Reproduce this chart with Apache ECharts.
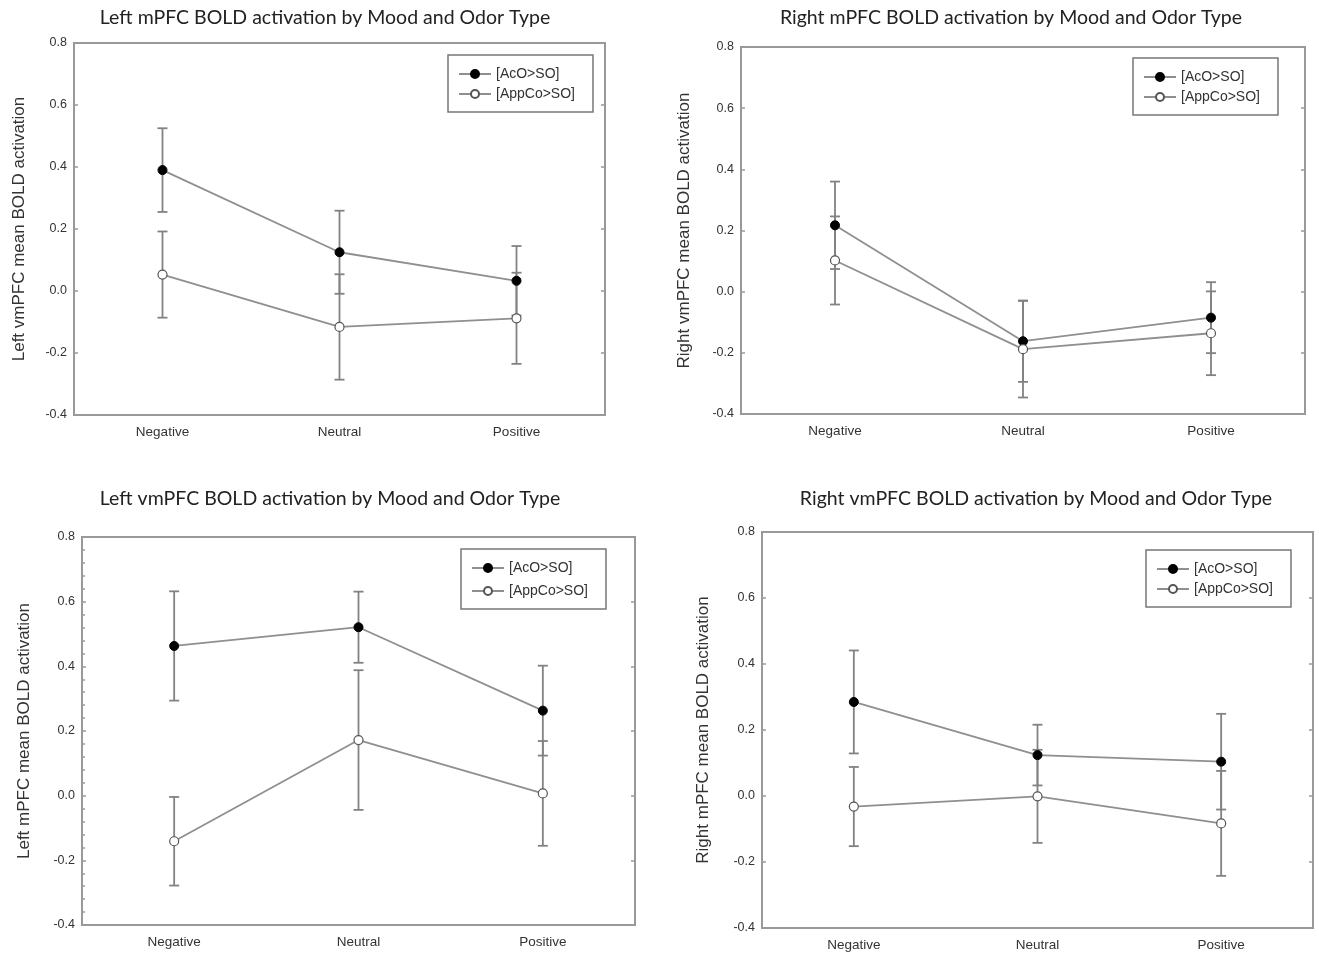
<!DOCTYPE html>
<html><head><meta charset="utf-8">
<script src="https://cdn.jsdelivr.net/npm/echarts@6/dist/echarts.min.js"></script>
<style>html,body{margin:0;padding:0;background:#fff}#c{width:1319px;height:956px}</style>
</head><body><div id="c"></div>
<script>
const categories = ['Negative', 'Neutral', 'Positive'];
const seriesNames = ['[AcO>SO]', '[AppCo>SO]'];
const yTicks = [-0.4, -0.2, 0.0, 0.2, 0.4, 0.6, 0.8];

const titles = [
  'Left mPFC BOLD activation by Mood and Odor Type',
  'Right mPFC BOLD activation by Mood and Odor Type',
  'Left vmPFC BOLD activation by Mood and Odor Type',
  'Right vmPFC BOLD activation by Mood and Odor Type'
];
const yNames = [
  'Left vmPFC mean BOLD activation',
  'Right vmPFC mean BOLD activation',
  'Left mPFC mean BOLD activation',
  'Right mPFC mean BOLD activation'
];

// panel 1
const p1AcO = [0.390, 0.125, 0.033];
const p1AcOErr = [0.135, 0.134, 0.112];
const p1AppCo = [0.053, -0.116, -0.088];
const p1AppCoErr = [0.139, 0.170, 0.147];
// panel 2
const p2AcO = [0.217, -0.162, -0.085];
const p2AcOErr = [0.143, 0.133, 0.116];
const p2AppCo = [0.102, -0.188, -0.136];
const p2AppCoErr = [0.144, 0.158, 0.137];
// panel 3
const p3AcO = [0.463, 0.521, 0.263];
const p3AcOErr = [0.169, 0.110, 0.139];
const p3AppCo = [-0.141, 0.172, 0.007];
const p3AppCoErr = [0.137, 0.216, 0.162];
// panel 4
const p4AcO = [0.285, 0.124, 0.104];
const p4AcOErr = [0.156, 0.092, 0.145];
const p4AppCo = [-0.032, -0.001, -0.083];
const p4AppCoErr = [0.120, 0.141, 0.159];

const panels = [
  {acO: p1AcO, acOErr: p1AcOErr, app: p1AppCo, appErr: p1AppCoErr},
  {acO: p2AcO, acOErr: p2AcOErr, app: p2AppCo, appErr: p2AppCoErr},
  {acO: p3AcO, acOErr: p3AcOErr, app: p3AppCo, appErr: p3AppCoErr},
  {acO: p4AcO, acOErr: p4AcOErr, app: p4AppCo, appErr: p4AppCoErr}
];

// layout
const grids = [
  {left: 74, top: 43, width: 531, height: 372},
  {left: 741, top: 47, width: 564, height: 367},
  {left: 82, top: 537, width: 553, height: 388},
  {left: 762, top: 532, width: 551, height: 396}
];
const titlePos = [[320, 3], [1006, 3], [325, 484], [1031, 484]];
const nameGaps = [46, 48, 49, 50];
const legendPos = [[448, 55], [1133, 58], [461, 549], [1146, 550]];
const legendGap = [6, 6, 9, 6];

const lineColor = '#8f8f8f';
const errColor = '#828282';
const frameColor = '#999';
const textColor = '#333';

const option = {
  backgroundColor: '#fff',
  animation: false,
  title: [], grid: [], xAxis: [], yAxis: [], legend: [], series: []
};

function errRender(params, api) {
  const x = api.value(0);
  const lo = api.coord([x, api.value(1)]);
  const hi = api.coord([x, api.value(2)]);
  const cap = 5;
  const style = {stroke: errColor, lineWidth: 1.8};
  return {
    type: 'group',
    children: [
      {type: 'line', shape: {x1: lo[0], y1: lo[1], x2: hi[0], y2: hi[1]}, style},
      {type: 'line', shape: {x1: lo[0] - cap, y1: lo[1], x2: lo[0] + cap, y2: lo[1]}, style},
      {type: 'line', shape: {x1: hi[0] - cap, y1: hi[1], x2: hi[0] + cap, y2: hi[1]}, style}
    ]
  };
}

panels.forEach((p, i) => {
  option.title.push({
    text: titles[i], left: titlePos[i][0], top: titlePos[i][1], textAlign: 'center',
    textStyle: {fontFamily: 'Lato', fontSize: 19.5, fontWeight: 'normal', color: '#222'}
  });
  option.grid.push(Object.assign({show: true, borderColor: frameColor, borderWidth: 2, backgroundColor: 'transparent'}, grids[i]));
  option.xAxis.push({
    type: 'category', gridIndex: i, data: categories, boundaryGap: true,
    axisLine: {show: false}, axisTick: {show: false}, splitLine: {show: false},
    axisLabel: {color: textColor, fontFamily: 'Liberation Sans', fontSize: 13.5, margin: 10}
  });
  const yBase = {
    type: 'value', gridIndex: i, min: -0.4, max: 0.8, interval: 0.2,
    splitLine: {show: false},
    axisLine: {show: true, lineStyle: {color: frameColor, width: 2}}
  };
  option.yAxis.push(Object.assign({}, yBase, {
    position: 'left',
    name: yNames[i], nameLocation: 'middle', nameGap: nameGaps[i],
    nameTextStyle: {color: textColor, fontFamily: 'Liberation Sans', fontSize: 17},
    axisTick: {show: true, inside: true, length: 4, lineStyle: {color: frameColor, width: 1.5}},
    minorTick: i === 2 ? {show: true, splitNumber: 5, length: 3, lineStyle: {color: frameColor, width: 1.5}} : {show: false},
    axisLabel: {color: textColor, fontFamily: 'Liberation Sans', fontSize: 12.5, margin: 7,
      formatter: v => yTicks.indexOf(Math.round(v * 10) / 10) >= 0 ? v.toFixed(1) : ''}
  }));
  option.yAxis.push(Object.assign({}, yBase, {
    position: 'right',
    axisTick: {show: true, inside: true, length: 4, lineStyle: {color: frameColor, width: 1.5}},
    axisLabel: {show: false}
  }));
  option.legend.push({
    left: legendPos[i][0], top: legendPos[i][1], orient: 'vertical',
    data: seriesNames, borderColor: '#777', borderWidth: 1.5, borderRadius: 0,
    padding: [12, 18, 11, 10], itemWidth: 32, itemHeight: 10, itemGap: legendGap[i],
    textStyle: {color: textColor, fontFamily: 'Liberation Sans', fontSize: 14},
    selectedMode: false
  });
  const yIdx = i * 2;
  const errData = (vals, errs) => vals.map((v, k) => [k, v - errs[k], v + errs[k]]);
  option.series.push({
    type: 'custom', xAxisIndex: i, yAxisIndex: yIdx, renderItem: errRender,
    data: errData(p.acO, p.acOErr), encode: {x: 0, y: [1, 2]}, z: 2, silent: true
  });
  option.series.push({
    type: 'custom', xAxisIndex: i, yAxisIndex: yIdx, renderItem: errRender,
    data: errData(p.app, p.appErr), encode: {x: 0, y: [1, 2]}, z: 2, silent: true
  });
  option.series.push({
    name: seriesNames[0], type: 'line', xAxisIndex: i, yAxisIndex: yIdx, data: p.acO,
    symbol: 'circle', symbolSize: 9, z: 4,
    lineStyle: {color: lineColor, width: 1.8},
    itemStyle: {color: '#000', borderColor: '#000', borderWidth: 1}
  });
  option.series.push({
    name: seriesNames[1], type: 'line', xAxisIndex: i, yAxisIndex: yIdx, data: p.app,
    symbol: 'circle', symbolSize: 9, z: 4,
    lineStyle: {color: lineColor, width: 1.8},
    itemStyle: {color: '#fff', borderColor: '#555', borderWidth: 1.2}
  });
});

const chart = echarts.init(document.getElementById('c'), null, {renderer: 'canvas'});
chart.setOption(option);
</script></body></html>
